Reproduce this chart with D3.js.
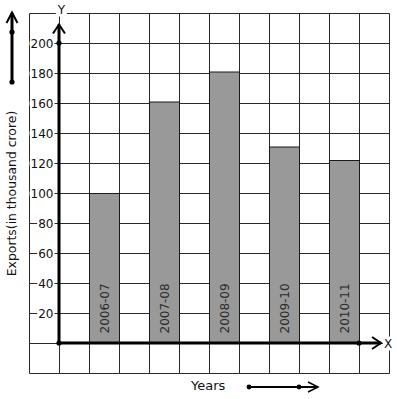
<!DOCTYPE html>
<html>
<head>
<meta charset="utf-8">
<script src="https://cdn.jsdelivr.net/npm/d3@7"></script>
<style>
  body { margin: 0; background: #fff; }
  svg { display: block; font-family: "DejaVu Sans", sans-serif; }
</style>
</head>
<body>
<div id="chart"></div>
<script>
// data
const years = ["2006-07", "2007-08", "2008-09", "2009-10", "2010-11"];
const exportValues = [100, 161, 181, 131, 122];
const yTicks = [20, 40, 60, 80, 100, 120, 140, 160, 180, 200];
const gridRows = [-20, 0, 20, 40, 60, 80, 100, 120, 140, 160, 180, 200, 220];
const gridCols = [-1, 0, 1, 2, 3, 4, 5, 6, 7, 8, 9, 10, 11];

const width = 397, height = 399;

const svg = d3.select("#chart").append("svg")
  .attr("width", width)
  .attr("height", height);

// grid: one column = 30px, one row = 20 units = 30px
const gx = d3.scaleLinear().domain([-1, 11]).range([29.5, 389.5]);
const y = d3.scaleLinear().domain([-20, 220]).range([373.5, 13.5]);
const x = d3.scaleBand()
  .domain(years)
  .range([gx(0), gx(10)])
  .paddingInner(0.5)
  .paddingOuter(0.25)
  .align(1);

const gridColor = "#2a2a2a";

svg.append("g").selectAll("line")
  .data(gridRows)
  .enter().append("line")
  .attr("x1", gx(-1)).attr("x2", gx(11))
  .attr("y1", d => y(d)).attr("y2", d => y(d))
  .attr("stroke", gridColor).attr("stroke-width", 1);

svg.append("g").selectAll("line")
  .data(gridCols)
  .enter().append("line")
  .attr("x1", d => gx(d)).attr("x2", d => gx(d))
  .attr("y1", y(220)).attr("y2", y(-20))
  .attr("stroke", gridColor).attr("stroke-width", 1);

// bars
svg.append("g").selectAll("rect")
  .data(years)
  .enter().append("rect")
  .attr("x", d => x(d))
  .attr("y", (d, i) => y(exportValues[i]))
  .attr("width", x.bandwidth())
  .attr("height", (d, i) => y(0) - y(exportValues[i]))
  .attr("fill", "#999999")
  .attr("stroke", "#1a1a1a")
  .attr("stroke-width", 1);

// year labels inside bars
svg.append("g").selectAll("text")
  .data(years)
  .enter().append("text")
  .attr("transform", d => `translate(${x(d) + x.bandwidth() / 2 + 4.5},${y(0) - 10}) rotate(-90)`)
  .attr("font-size", 12)
  .attr("fill", "#2a2a2a")
  .text(d => d);

// y tick labels with white backing over the grid lines
const tickG = svg.append("g");
yTicks.forEach(t => {
  const g = tickG.append("g");
  const txt = g.append("text")
    .attr("x", 53.5)
    .attr("y", y(t))
    .attr("dy", "0.36em")
    .attr("text-anchor", "end")
    .attr("font-size", 12)
    .attr("fill", "#111")
    .text(t);
  const b = txt.node().getBBox();
  g.insert("rect", "text")
    .attr("x", b.x - 1).attr("y", y(t) - 2)
    .attr("width", b.width + 2).attr("height", 4)
    .attr("fill", "#fff");
});

// axes
const axisX = gx(0) - 0.5, axisY = y(0) - 0.5;
const yTip = y(212.7), xTip = 381;

svg.append("line")
  .attr("x1", axisX).attr("x2", axisX)
  .attr("y1", axisY).attr("y2", yTip)
  .attr("stroke", "#000").attr("stroke-width", 3);
svg.append("path")
  .attr("d", `M${axisX - 6},${yTip + 9}L${axisX},${yTip}L${axisX + 6},${yTip + 9}`)
  .attr("fill", "none").attr("stroke", "#000").attr("stroke-width", 2);

svg.append("line")
  .attr("x1", axisX).attr("x2", xTip)
  .attr("y1", axisY).attr("y2", axisY)
  .attr("stroke", "#000").attr("stroke-width", 3);
svg.append("path")
  .attr("d", `M${xTip - 9},${axisY - 6}L${xTip},${axisY}L${xTip - 9},${axisY + 6}`)
  .attr("fill", "none").attr("stroke", "#000").attr("stroke-width", 2);

svg.selectAll("circle.axisdot")
  .data([[axisX, y(200) - 0.5], [axisX, axisY], [gx(10) - 0.5, axisY]])
  .enter().append("circle")
  .attr("class", "axisdot")
  .attr("cx", d => d[0]).attr("cy", d => d[1])
  .attr("r", 2.6).attr("fill", "#000");

// axis letters on white patches
function letter(txt, cx, by) {
  const t = svg.append("text")
    .attr("x", cx).attr("y", by)
    .attr("text-anchor", "middle")
    .attr("font-size", 12)
    .attr("fill", "#111")
    .text(txt);
  const b = t.node().getBBox();
  svg.insert("rect", () => t.node())
    .attr("x", b.x - 1).attr("y", b.y)
    .attr("width", b.width + 2).attr("height", b.height)
    .attr("fill", "#fff");
}
letter("Y", 61.5, 13.5);
letter("X", 388, 347.5);

// axis titles
svg.append("text")
  .attr("transform", `translate(15.5,${y(100)}) rotate(-90)`)
  .attr("text-anchor", "middle")
  .attr("font-size", 12.4)
  .attr("fill", "#111")
  .text("Exports(in thousand crore)");

svg.append("text")
  .attr("x", 191)
  .attr("y", 390)
  .attr("font-size", 13)
  .attr("fill", "#111")
  .text("Years");

// direction arrows
svg.append("line")
  .attr("x1", 12).attr("x2", 12).attr("y1", 82).attr("y2", 13)
  .attr("stroke", "#000").attr("stroke-width", 3);
svg.append("path")
  .attr("d", "M6.5,23L12,12.5L17.5,23")
  .attr("fill", "none").attr("stroke", "#000").attr("stroke-width", 2);
svg.selectAll("circle.ydir")
  .data([32, 82])
  .enter().append("circle")
  .attr("class", "ydir")
  .attr("cx", 12).attr("cy", d => d).attr("r", 2.6).attr("fill", "#000");

svg.append("line")
  .attr("x1", 249).attr("x2", 318).attr("y1", 387).attr("y2", 387)
  .attr("stroke", "#000").attr("stroke-width", 2);
svg.append("path")
  .attr("d", "M308,382L318,387L308,392")
  .attr("fill", "none").attr("stroke", "#000").attr("stroke-width", 1.5);
svg.selectAll("circle.xdir")
  .data([249, 299])
  .enter().append("circle")
  .attr("class", "xdir")
  .attr("cx", d => d).attr("cy", 387).attr("r", 2.4).attr("fill", "#000");
</script>
</body>
</html>
